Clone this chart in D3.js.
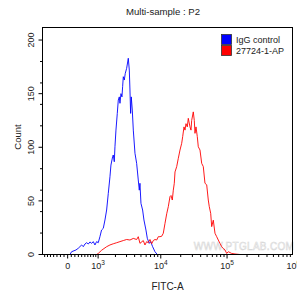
<!DOCTYPE html>
<html><head><meta charset="utf-8">
<script src="https://cdn.jsdelivr.net/npm/d3@7"></script>
<style>body{margin:0;background:#fff}svg{display:block}text{font-family:"Liberation Sans",Arial,sans-serif}</style>
</head><body><svg id="c" width="297" height="291"></svg>
<script>
const title = "Multi-sample : P2";
const xLabel = "FITC-A";
const yLabel = "Count";
const seriesNames = ["IgG control", "27724-1-AP"];
const seriesColors = ["#0000ff", "#ff0000"];
const watermark = "WWW.PTGLAB.COM";

// IgG control histogram (FITC value, count)
const iggFitc = [63,109,231,298,398,450,504,559,616,675,736,799,866,935,1006,1082,1160,1246,1334,1426,1523,1625,1688,1799,1844,1916,1964,2039,2142,2223,2307,2364,2452,2542,2606,2669,2766,2868,3011,3194,3311,3390,3471,3553,3683,3818,4050,4298,4552,4716,4826,5001,5303,5555,5962,6247,6698,7021,7528,8166,8858,9724];
const iggCount = [0,2.6,4.2,5.8,8.9,7.3,9.8,11,9.8,11.7,10.4,12,8.9,12,11,16.6,22.8,24.4,32.2,41.5,57,72.5,83.4,91.2,92.8,86.5,100.5,116,131.6,144,147,141,150,147,156.5,165.8,162.7,169,173.6,183,172,153.4,131.6,147,134.7,116,94.4,85,69.5,60,66.4,47.7,41.5,32.2,22.8,15.1,10.4,12,7.3,2.6,0,0];

// 27724-1-AP histogram (FITC value, count)
const apFitc = [937,1007,1165,1428,1625,1843,2094,2364,2666,3013,3391,3814,4301,4552,4830,5424,5756,6113,6462,6860,7282,7697,8170,8675,9170,9720,10320,10910,11580,12290,12990,13780,14270,14930,15460,16000,16400,17400,18390,19510,20690,21430,22420,23210,24020,25130,26020,27610,28580,29280,30960,32050,32840,34000,35570,36820,39070,41440,43810,46450,49300,52100,53960,56640,58660,61980,65770,69760,73750,78250,82990,87770,93060,98710,104400,117400,131700,156700];
const apCount = [0,1,4,7.3,8.9,10,11,12,13,14,13.5,15,14,16.6,10.4,13,8.9,12,11,14,10,13,14,13.5,16.6,16.6,17,19.8,29,38,44.6,54,55,50.8,60,66.4,77,82,89.7,97.4,103.7,110,119,116,122,119,127,119,116,125,133,125,113,119,110,100.5,97.4,85,82,66.4,65,50.8,44.6,38.4,26,32,19.8,16.6,13.5,10.4,7.3,5.5,4.2,1,2.6,1,0.5,0];

const yMajorTicks = [0, 50, 100, 150, 200];
const yMinorTicks = [20, 40, 60, 80, 120, 140, 160, 180];
const xMajorTicks = [0, 1e3, 1e4, 1e5, 1e6];
const xMajorLabels = [["0", ""], ["10", "3"], ["10", "4"], ["10", "5"], ["10", "6"]];

const svg = d3.select("#c");
const L = 42.5, R = 292.5, Tp = 27.5, B = 254.5;

const C = 790;
const tf = v => Math.asinh(v / C);
const xT = d3.scaleLinear().domain([tf(-781), tf(969700)]).range([L, R]);
const x = v => xT(tf(v));
const y = d3.scaleLinear().domain([0, 211.7]).range([B, Tp]);

svg.append("defs").append("clipPath").attr("id", "clip")
  .append("rect").attr("x", L).attr("y", Tp - 2).attr("width", R - L).attr("height", B - Tp + 2);

// watermark
svg.append("text").attr("x", 244).attr("y", 249.5).attr("text-anchor", "middle")
  .attr("font-size", 10).attr("fill", "#fbfbfb").attr("stroke", "#d2d2d2").attr("stroke-width", 0.45)
  .attr("letter-spacing", 0.3).text(watermark);

// series
const line = d3.line().x(d => x(d[0])).y(d => y(d[1]));
const g = svg.append("g").attr("clip-path", "url(#clip)");
[[iggFitc, iggCount], [apFitc, apCount]].forEach((s, i) => {
  const pts = s[0].map((v, j) => [v, s[1][j]]);
  g.append("path").attr("d", line(pts)).attr("fill", "none")
    .attr("stroke", seriesColors[i]).attr("stroke-width", 0.9);
});

// frame
svg.append("rect").attr("x", L).attr("y", Tp).attr("width", R - L).attr("height", B - Tp)
  .attr("fill", "none").attr("stroke", "#000").attr("stroke-width", 1);

// y ticks
yMajorTicks.forEach(t => {
  svg.append("line").attr("x1", L - 4).attr("x2", L).attr("y1", y(t)).attr("y2", y(t)).attr("stroke", "#000");
  svg.append("text").attr("transform", `translate(33.5,${y(t)}) rotate(-90)`).attr("text-anchor", "middle")
    .attr("font-size", 9).attr("fill", "#222").text(t);
});
yMinorTicks.forEach(t => {
  svg.append("line").attr("x1", L - 2.5).attr("x2", L).attr("y1", y(t)).attr("y2", y(t)).attr("stroke", "#000");
});

// x ticks
const xMinor = [];
for (let k = -700; k <= 900; k += 100) if (k !== 0) xMinor.push(k);
[1e3, 1e4, 1e5].forEach(d => { for (let m = 2; m <= 9; m++) xMinor.push(m * d); });
xMinor.forEach(t => {
  svg.append("line").attr("x1", x(t)).attr("x2", x(t)).attr("y1", B).attr("y2", B + 2.5).attr("stroke", "#000");
});
xMajorTicks.forEach((t, i) => {
  const px = x(t);
  if (px <= R + 0.5) svg.append("line").attr("x1", px).attr("x2", px).attr("y1", B).attr("y2", B + 4).attr("stroke", "#000");
  const tx = svg.append("text").attr("x", px).attr("y", 268.5).attr("text-anchor", "middle")
    .attr("font-size", 9).attr("fill", "#222");
  tx.append("tspan").text(xMajorLabels[i][0]);
  if (xMajorLabels[i][1]) tx.append("tspan").attr("dy", -4).attr("font-size", 6.5).text(xMajorLabels[i][1]);
});

// labels
svg.append("text").attr("x", 163).attr("y", 14.5).attr("text-anchor", "middle").attr("font-size", 9.6).attr("fill", "#222").text(title);
svg.append("text").attr("x", 167.5).attr("y", 289.5).attr("text-anchor", "middle").attr("font-size", 10).attr("fill", "#222").text(xLabel);
svg.append("text").attr("transform", "translate(20.5,137) rotate(-90)").attr("text-anchor", "middle").attr("font-size", 9.5).attr("fill", "#222").text(yLabel);

// legend
seriesNames.forEach((n, i) => {
  const yy = 34.5 + i * 11;
  svg.append("rect").attr("x", 221.5).attr("y", yy).attr("width", 10).attr("height", 10)
    .attr("fill", seriesColors[i]).attr("stroke", "#333").attr("stroke-width", 0.8);
  svg.append("text").attr("x", 236).attr("y", yy + 8.5).attr("font-size", 9).attr("fill", "#222").text(n);
});
</script></body></html>
